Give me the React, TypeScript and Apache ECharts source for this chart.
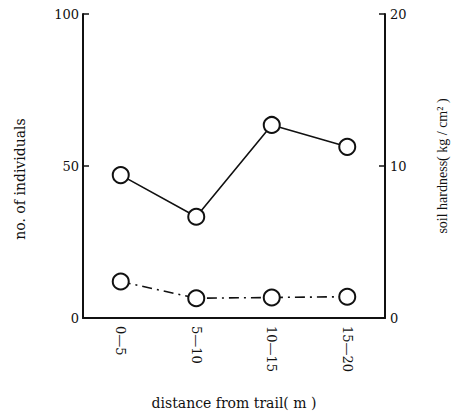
import React, { useEffect, useRef } from "react";
import * as echarts from "echarts";

const categories = ["0—5", "5—10", "10—15", "15—20"];
const individuals = [47, 33.3, 63.5, 56.3];
const soilHardness = [2.4, 1.3, 1.35, 1.4];
const leftTicks = [0, 50, 100];
const rightTicks = [0, 10, 20];

const FONT = "'DejaVu Serif', 'Liberation Serif', serif";
const FONT2 = "'Liberation Serif', 'DejaVu Serif', serif";

export default function App() {
  const ref = useRef<HTMLDivElement>(null);
  useEffect(() => {
    if (!ref.current) return;
    const chart = echarts.init(ref.current, null, { renderer: "svg" });
    chart.setOption({
      animation: false,
      backgroundColor: "#fff",
      textStyle: { fontFamily: FONT, color: "#111" },
      grid: { left: 83, right: 73, top: 14, bottom: 101 },
      xAxis: {
        type: "category",
        data: categories,
        boundaryGap: true,
        name: "distance from trail( m )",
        nameLocation: "middle",
        nameGap: 78,
        nameTextStyle: { fontFamily: FONT, fontSize: 14, color: "#111" },
        axisLine: { lineStyle: { color: "#111", width: 2 } },
        axisTick: { alignWithLabel: true, inside: true, length: 6, lineStyle: { color: "#111", width: 1.5 } },
        axisLabel: { rotate: -90, fontFamily: FONT, fontSize: 13, color: "#111", margin: 8 },
        splitLine: { show: false },
      },
      yAxis: [
        {
          type: "value",
          min: leftTicks[0],
          max: leftTicks[leftTicks.length - 1],
          interval: 50,
          position: "left",
          name: "no. of individuals",
          nameLocation: "middle",
          nameGap: 56,
          nameRotate: 90,
          nameTextStyle: { fontFamily: FONT, fontSize: 14, color: "#111", padding: [0, 26, 0, 0] },
          axisLine: { show: true, lineStyle: { color: "#111", width: 2 } },
          axisTick: { show: true, inside: true, length: 6, lineStyle: { color: "#111", width: 1.5 } },
          axisLabel: { fontFamily: FONT, fontSize: 13, color: "#111", margin: 4 },
          splitLine: { show: false },
        },
        {
          type: "value",
          min: rightTicks[0],
          max: rightTicks[rightTicks.length - 1],
          interval: 10,
          position: "right",
          name: "soil hardness( kg / cm² )",
          nameLocation: "middle",
          nameGap: 50,
          nameRotate: 90,
          nameTextStyle: { fontFamily: FONT2, fontSize: 14, color: "#111" },
          axisLine: { show: true, lineStyle: { color: "#111", width: 2 } },
          axisTick: { show: true, inside: true, length: 6, lineStyle: { color: "#111", width: 1.5 } },
          axisLabel: { fontFamily: FONT, fontSize: 13, color: "#111", margin: 5 },
          splitLine: { show: false },
        },
      ],
      series: [
        {
          type: "line",
          yAxisIndex: 0,
          data: individuals,
          symbol: "circle",
          symbolSize: 16,
          itemStyle: { color: "#fff", borderColor: "#111", borderWidth: 2 },
          lineStyle: { color: "#111", width: 1.6 },
          z: 3,
        },
        {
          type: "line",
          yAxisIndex: 1,
          data: soilHardness,
          symbol: "circle",
          symbolSize: 16,
          itemStyle: { color: "#fff", borderColor: "#111", borderWidth: 2 },
          lineStyle: { color: "#111", width: 1.6, type: [10, 5, 2, 5] },
          z: 3,
        },
      ],
    });
    return () => chart.dispose();
  }, []);
  return <div ref={ref} style={{ width: 458, height: 419, position: "absolute", left: 0, top: 0 }} />;
}
